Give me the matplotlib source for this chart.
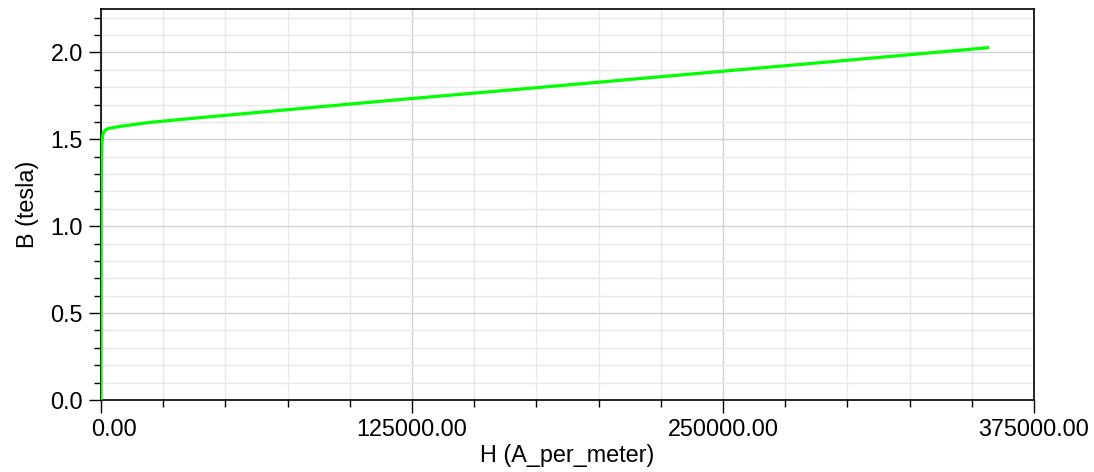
import matplotlib
matplotlib.use("Agg")
import matplotlib.pyplot as plt
from matplotlib.ticker import MultipleLocator, FormatStrFormatter
import matplotlib.transforms as mtransforms

H = [0, 100, 200, 300, 500, 800, 1200, 2000, 3000, 5000, 8000, 12000,
     20000, 40000, 80000, 125000, 175000, 250000, 300000, 357000]
B = [0, 1.2, 1.38, 1.45, 1.5, 1.53, 1.545, 1.555, 1.562, 1.568, 1.575, 1.583,
     1.598, 1.625, 1.677, 1.735, 1.797, 1.892, 1.955, 2.028]

x_major = [0, 125000, 250000, 375000]
x_label = "H (A_per_meter)"
y_label = "B (tesla)"

plt.rcParams['font.family'] = ['Liberation Sans', 'DejaVu Sans']

fig = plt.figure(figsize=(10.94, 4.72), dpi=100)
ax = fig.add_axes([101/1094, 1 - 400/472, (1034-101)/1094, (400-9)/472])

ax.plot(H, B, color='#00ff00', lw=2.3, solid_capstyle='butt', zorder=3)

ax.set_xlim(0, 375000)
ax.set_ylim(0, 2.25)
ax.set_xticks(x_major)
ax.xaxis.set_minor_locator(MultipleLocator(25000))
ax.yaxis.set_major_locator(MultipleLocator(0.5))
ax.yaxis.set_minor_locator(MultipleLocator(0.1))
ax.xaxis.set_major_formatter(FormatStrFormatter('%.2f'))
ax.yaxis.set_major_formatter(FormatStrFormatter('%.1f'))

ax.grid(which='major', color='#d2d2d2', lw=1.0)
ax.grid(which='minor', color='#e8e8e8', lw=1.0)
ax.set_axisbelow(True)

ax.tick_params(which='major', direction='out', length=9, width=1, labelsize=16.8, pad=4)
ax.tick_params(which='minor', direction='out', length=5, width=1)
for s in ax.spines.values():
    s.set_linewidth(1.2)

ax.set_xlabel(x_label, fontsize=16.8, labelpad=2)
ax.set_ylabel(y_label, fontsize=16.8, labelpad=8)

fig.canvas.draw()
lbl0 = ax.get_xticklabels()[0]
lbl0.set_horizontalalignment('left')
lbl0.set_transform(lbl0.get_transform() + mtransforms.ScaledTranslation(-10/100, 0, fig.dpi_scale_trans))

fig.savefig("out.png", dpi=100)
